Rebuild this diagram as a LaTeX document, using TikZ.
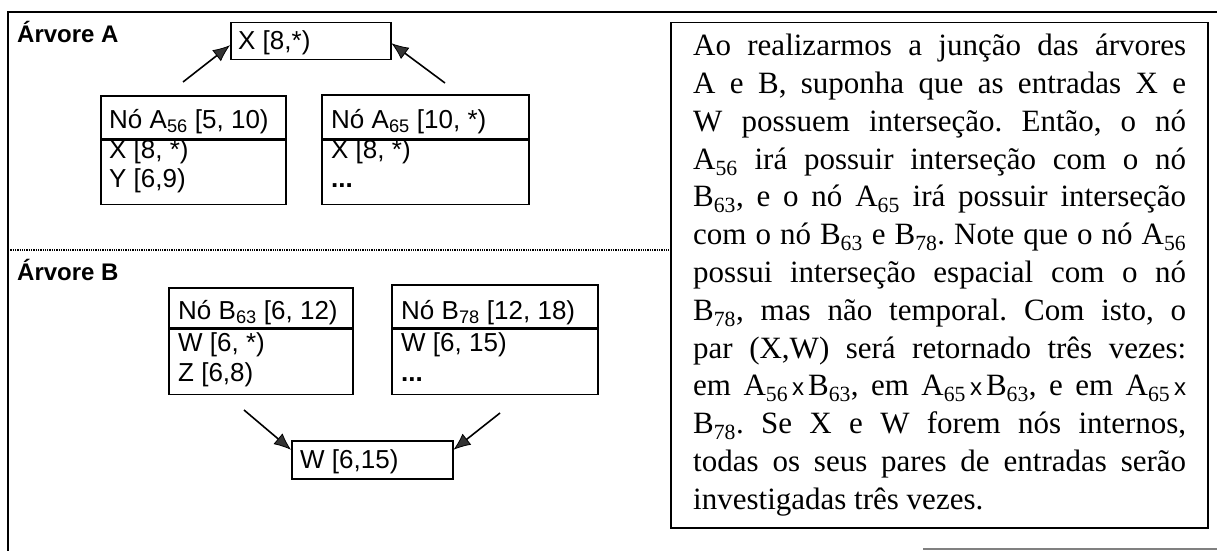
\documentclass[tikz,border=0pt]{standalone}
\usepackage{fontspec}
\setmainfont{Liberation Serif}
\setsansfont{Liberation Sans}
\usetikzlibrary{arrows.meta}
\newcommand\sbs[1]{\textsubscript{#1}}
\newcommand\pline[1]{\makebox[493pt][s]{#1}\par}
\frenchspacing
\begin{document}
\begin{tikzpicture}[x=1pt,y=-1pt,
  box/.style={draw, line width=1.5pt, inner sep=0pt, anchor=north west},
  lbl/.style={font=\sffamily\fontsize{26}{30}\selectfont, anchor=base west, inner sep=0pt},
  ttl/.style={font=\sffamily\bfseries\fontsize{24}{28}\selectfont, anchor=base west, inner sep=0pt},
  link/.style={line width=1.6pt, -{Latex[length=17pt,width=14pt,line width=0.8pt,fill=gray!40!black]}}]
\useasboundingbox (0,0) rectangle (1217,551);
% frame
\draw[line width=1.5pt] (1217,12) -- (8,12) -- (8,551);
\draw[densely dotted, line width=1.3pt] (8,250) -- (670,250);
\draw[gray, line width=1.2pt] (923,549) -- (1217,549);
% tree A
\node[ttl] (ta) at (17,43) {Árvore A};
\node[box, minimum width=160pt, minimum height=37pt] (xA) at (230,22) {};
\node[lbl] (xAt) at (238,50) {X [8,*)};
\node[box, minimum width=185pt, minimum height=43pt] (a56h) at (100,95) {};
\node[box, minimum width=185pt, minimum height=64pt] (a56b) at (a56h.south west) {};
\node[lbl] (a56t) at (109,128) {Nó A\sbs{56} [5, 10)};
\node[lbl] (a56r1) at (109,158) {X [8, *)};
\node[lbl] (a56r2) at (109,187) {Y [6,9)};
\node[box, minimum width=207pt, minimum height=44pt] (a65h) at (321,94) {};
\node[box, minimum width=207pt, minimum height=64pt] (a65b) at (a65h.south west) {};
\node[lbl] (a65t) at (331,128) {Nó A\sbs{65} [10, *)};
\node[lbl] (a65r1) at (331,158) {X [8, *)};
\node[lbl] (a65r2) at (331,187) {\textbf{...}};
\coordinate (a56s) at (183,82);
\coordinate (a65s) at (445,83);
\draw[link] (a56s) -- ([yshift=-4pt]xA.west);
\draw[link] (a65s) -- ([yshift=-2pt]xA.east);
% tree B
\node[ttl] (tb) at (17,280) {Árvore B};
\node[box, minimum width=184pt, minimum height=40pt] (b63h) at (168,287) {};
\node[box, minimum width=184pt, minimum height=65pt] (b63b) at (b63h.south west) {};
\node[lbl] (b63t) at (178,319) {Nó B\sbs{63} [6, 12)};
\node[lbl] (b63r1) at (178,351) {W [6, *)};
\node[lbl] (b63r2) at (178,381) {Z [6,8)};
\node[box, minimum width=206pt, minimum height=43pt] (b78h) at (391,284) {};
\node[box, minimum width=206pt, minimum height=65pt] (b78b) at (b78h.south west) {};
\node[lbl] (b78t) at (401,319) {Nó B\sbs{78} [12, 18)};
\node[lbl] (b78r1) at (401,351) {W [6, 15)};
\node[lbl] (b78r2) at (401,381) {\textbf{...}};
\node[box, minimum width=161pt, minimum height=38pt] (wB) at (291,440) {};
\node[lbl] (wBt) at (300,468) {W [6,15)};
\coordinate (b63s) at (244,410);
\coordinate (b78s) at (500,413);
\draw[link] (b63s) -- ([yshift=10pt]wB.west);
\draw[link] (b78s) -- ([yshift=10pt]wB.east);
% text box
\node[box, minimum width=537pt, minimum height=505pt] (txt) at (670,22) {};
\node[anchor=base west, inner sep=0pt, font=\fontsize{31}{37.75}\selectfont] (para) at (693,56) {\parbox[t]{493pt}{\fontsize{31}{37.75}\selectfont\parindent=0pt
\pline{Ao realizarmos a junção das árvores}
\pline{A e B, suponha que as entradas X e}
\pline{W possuem interseção. Então, o nó}
\pline{A\sbs{56} irá possuir interseção com o nó}
\pline{B\sbs{63}, e o nó A\sbs{65} irá possuir interseção}
\pline{com o nó B\sbs{63} e B\sbs{78}. Note que o nó A\sbs{56}}
\pline{possui interseção espacial com o nó}
\pline{B\sbs{78}, mas não temporal. Com isto, o}
\pline{par (X,W) será retornado três vezes:}
\pline{em A\sbs{56}{\sffamily\fontsize{24}{28}\selectfont\,x\,}B\sbs{63}, em A\sbs{65}{\sffamily\fontsize{24}{28}\selectfont\,x\,}B\sbs{63}, e em A\sbs{65}{\sffamily\fontsize{24}{28}\selectfont\,x}}
\pline{B\sbs{78}. Se X e W forem nós internos,}
\pline{todas os seus pares de entradas serão}
investigadas três vezes.}};
\end{tikzpicture}
\end{document}
